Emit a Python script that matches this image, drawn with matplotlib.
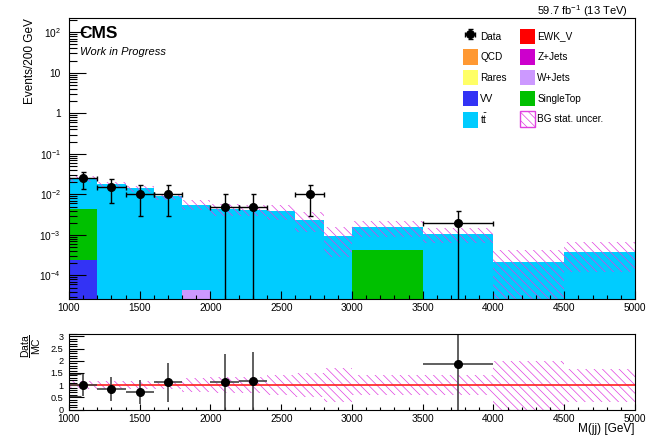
import numpy as np
import matplotlib
matplotlib.use("Agg")
import matplotlib.pyplot as plt
from matplotlib.patches import Patch
from matplotlib.ticker import MultipleLocator, FuncFormatter, LogLocator, NullFormatter

plt.rcParams['font.family'] = ['Liberation Sans', 'DejaVu Sans']
plt.rcParams['mathtext.fontset'] = 'custom'
plt.rcParams['mathtext.rm'] = 'Liberation Sans'
plt.rcParams['mathtext.it'] = 'Liberation Sans:italic'
plt.rcParams['mathtext.bf'] = 'Liberation Sans:bold'
plt.rcParams['hatch.linewidth'] = 0.5

# M(jj) binning, events normalised to 200 GeV
edges = np.array([1000, 1200, 1400, 1600, 1800, 2000, 2200, 2400, 2600,
                  2800, 3000, 3500, 4000, 4500, 5000])

# background components per bin
qcd = np.zeros(14)
rares = np.zeros(14)
ewk_v = np.zeros(14)
zjets = np.zeros(14)
wjets = np.array([0, 0, 0, 0, 4.3e-5, 0, 0, 0, 0, 0, 0, 0, 0, 0])
vv = np.array([2.4e-4, 0, 0, 0, 0, 0, 0, 0, 0, 0, 0, 0, 0, 0])
single_top = np.array([4.06e-3, 0, 0, 0, 0, 0, 0, 0, 0, 0, 4.3e-4, 0, 0, 0])
ttbar = np.array([0.0207, 0.0176, 0.0140, 0.0089, 0.00556, 0.0044, 0.0042,
                  0.0040, 0.0024, 0.00094, 0.00112, 0.00106, 0.00021, 0.00039])

# relative MC stat. uncertainty per bin
bg_rel_unc = np.array([0.17, 0.17, 0.17, 0.17, 0.28, 0.32, 0.32, 0.4, 0.5,
                       0.7, 0.41, 0.41, 1.0, 0.68])

# data (non-empty bins only)
data_x = np.array([1100, 1300, 1500, 1700, 2100, 2300, 2700, 3750])
data_xerr = np.array([100, 100, 100, 100, 100, 100, 100, 250])
data_y = np.array([0.025, 0.015, 0.01, 0.01, 0.005, 0.005, 0.01, 0.002])
data_yerr = np.array([0.0112, 0.0087, 0.0071, 0.0071, 0.005, 0.005, 0.0071, 0.002])

colors = {
    'QCD': '#ff9933', 'Rares': '#ffff66', 'VV': '#3333f5', 'tt': '#00ccff',
    'EWK_V': '#ff0000', 'Z+Jets': '#cc00cc', 'W+Jets': '#cc99ff',
    'SingleTop': '#00c000',
}
unc_color = '#e040e0'
hatch = '\\\\\\\\'

fig = plt.figure(figsize=(6.47, 4.37), dpi=100)
ax = fig.add_axes([0.1066, 0.3169, 0.8748, 0.6419])
axr = fig.add_axes([0.1066, 0.0629, 0.8748, 0.1728])

left = edges[:-1]
width = np.diff(edges)

# stacked backgrounds, bottom to top
handles = {}
bottom = np.zeros(14)
for name, vals in [('W+Jets', wjets), ('VV', vv), ('SingleTop', single_top),
                   ('QCD', qcd), ('Rares', rares), ('EWK_V', ewk_v),
                   ('Z+Jets', zjets), ('tt', ttbar)]:
    handles[name] = ax.bar(left, vals, width, bottom=bottom, align='edge',
                           color=colors[name], lw=0)
    bottom = bottom + vals
total = bottom

# stat. uncertainty band on the stack
ax.bar(left, 2 * bg_rel_unc * total, width, bottom=total * (1 - bg_rel_unc),
       align='edge', facecolor='none', edgecolor=unc_color, hatch=hatch, lw=0)

h_data = ax.errorbar(data_x, data_y, yerr=data_yerr, xerr=data_xerr, fmt='o',
                     color='k', ms=5.5, elinewidth=1, capsize=1.8, capthick=1)

ax.set_yscale('log')
ax.set_xlim(1000, 5000)
ax.set_ylim(2.7e-5, 225)


def log_label(v, pos):
    if np.isclose(v, 1):
        return '1'
    if np.isclose(v, 10):
        return '10'
    return r'$10^{%d}$' % round(np.log10(v))


ax.yaxis.set_major_locator(LogLocator(base=10, numticks=20))
ax.yaxis.set_minor_locator(LogLocator(base=10, subs=np.arange(2, 10), numticks=20))
ax.yaxis.set_major_formatter(FuncFormatter(log_label))
ax.yaxis.set_minor_formatter(NullFormatter())
ax.xaxis.set_major_locator(MultipleLocator(500))
ax.xaxis.set_minor_locator(MultipleLocator(100))
ax.tick_params(axis='y', which='major', direction='in', length=12, width=0.8,
               labelsize=7.3, pad=6)
ax.tick_params(axis='y', which='minor', direction='in', length=6, width=0.8)
ax.tick_params(axis='x', which='major', direction='in', length=6, width=0.8,
               labelsize=7.3, pad=3)
ax.tick_params(axis='x', which='minor', direction='in', length=3, width=0.8)
for s in ax.spines.values():
    s.set_linewidth(0.8)

ax.set_ylabel('Events/200 GeV', fontsize=8.5, loc='top')
ax.yaxis.set_label_coords(-0.058, 1.0)

ax.text(0.0177, 0.972, 'CMS', transform=ax.transAxes, fontsize=12.5,
        fontweight='bold', va='top', ha='left')
ax.text(0.0194, 0.898, 'Work in Progress', transform=ax.transAxes, fontsize=8,
        style='italic', va='top', ha='left')
ax.text(0.988, 0.995, r'59.7 fb$^{-1}$ (13 TeV)', transform=ax.transAxes,
        fontsize=8, va='bottom', ha='right')

unc_patch = Patch(facecolor='none', edgecolor=unc_color, hatch=hatch, lw=1)
leg_handles = [h_data, handles['QCD'], handles['Rares'], handles['VV'],
               handles['tt'], handles['EWK_V'], handles['Z+Jets'],
               handles['W+Jets'], handles['SingleTop'], unc_patch]
leg_labels = ['Data', 'QCD', 'Rares', 'VV', r'$\mathrm{t\bar{t}}$', 'EWK_V',
              'Z+Jets', 'W+Jets', 'SingleTop', 'BG stat. uncer.']
ax.legend(leg_handles, leg_labels, ncols=2, loc='upper left',
          bbox_to_anchor=(0.6956, 0.962), frameon=False, fontsize=7.2,
          borderpad=0, borderaxespad=0, handlelength=1.5, handleheight=2.0,
          labelspacing=0.52, handletextpad=0.25, columnspacing=1.3)

# ratio panel
axr.bar(left, 2 * bg_rel_unc, width, bottom=1 - bg_rel_unc, align='edge',
        facecolor='none', edgecolor=unc_color, hatch=hatch, lw=0)
axr.hlines(1, edges[0], edges[-1], color='#ff2020', lw=1.2)

bin_idx = np.searchsorted(edges, data_x) - 1
ratio = data_y / total[bin_idx]
ratio_err = data_yerr / total[bin_idx]
show = ratio < 3.1
axr.errorbar(data_x[show], ratio[show], yerr=ratio_err[show],
             xerr=data_xerr[show], fmt='o', color='k', ecolor='#444444',
             ms=5.5, elinewidth=1.2, capsize=0)
axr.hlines([ratio[0] - ratio_err[0], ratio[0] + ratio_err[0]], edges[0],
           data_x[0] - 15, color='#444444', lw=0.8)

axr.set_xlim(1000, 5000)
axr.set_ylim(0, 3.1)
axr.xaxis.set_major_locator(MultipleLocator(500))
axr.xaxis.set_minor_locator(MultipleLocator(100))
axr.yaxis.set_major_locator(MultipleLocator(0.5))
axr.yaxis.set_minor_locator(MultipleLocator(0.1))
axr.yaxis.set_major_formatter(FuncFormatter(lambda v, p: '%g' % v))
axr.tick_params(axis='y', which='major', direction='in', length=11, width=0.8,
                labelsize=6.6, pad=4)
axr.tick_params(axis='y', which='minor', direction='in', length=5.5, width=0.8)
axr.tick_params(axis='x', which='major', direction='in', length=4, width=0.8,
                labelsize=7.3, pad=3)
axr.tick_params(axis='x', which='minor', direction='in', length=2, width=0.8)
for s in axr.spines.values():
    s.set_linewidth(0.8)

axr.set_ylabel(r'$\dfrac{\mathrm{Data}}{\mathrm{MC}}$', fontsize=7.5, loc='top')
axr.yaxis.set_label_coords(-0.046, 1.0)
axr.set_xlabel('M(jj) [GeV]', fontsize=8.5, loc='right')
axr.xaxis.set_label_coords(1.0, -0.185)

fig.savefig('out.png', dpi=100)
